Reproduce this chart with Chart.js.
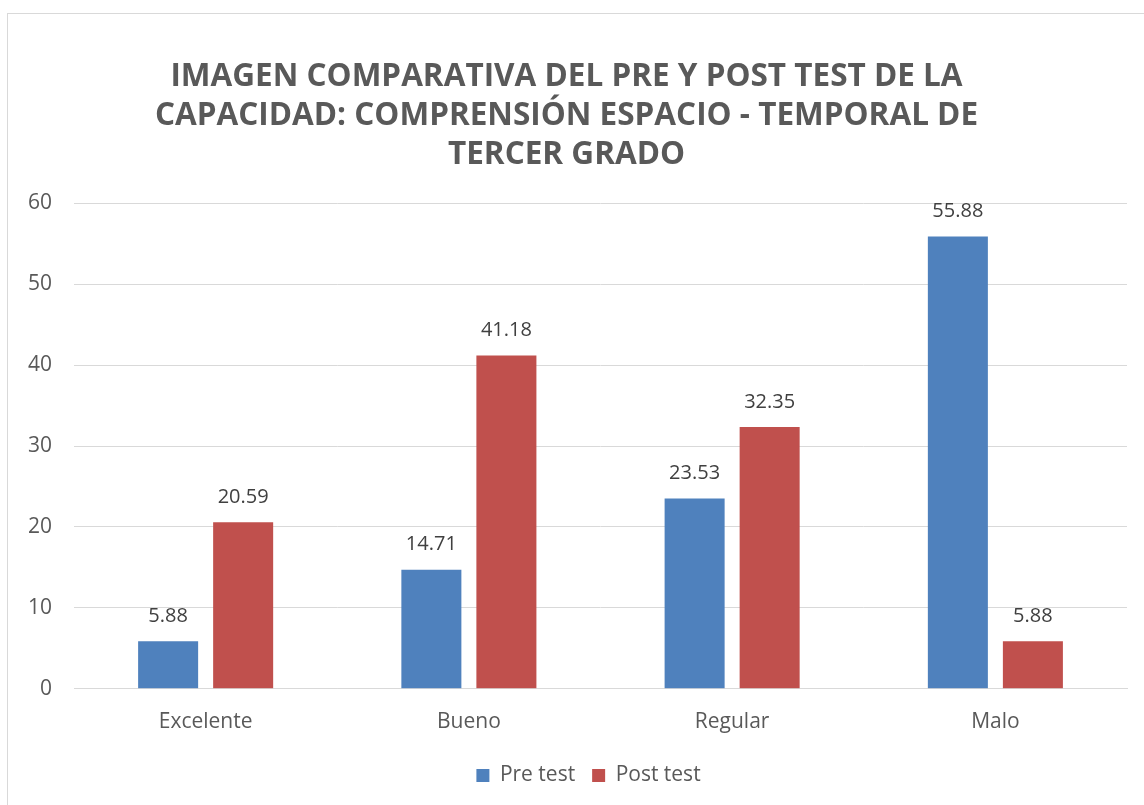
<!DOCTYPE html>
<html>
<head>
<meta charset="utf-8">
<script src="https://cdn.jsdelivr.net/npm/chart.js@4.4.0/dist/chart.umd.min.js"></script>
<style>
  html, body { margin: 0; padding: 0; background: #ffffff; }
  body { width: 1144px; height: 805px; position: relative; overflow: hidden; }
  #frame { position: absolute; left: 7px; top: 13px; width: 1160px; height: 820px; border: 1px solid #d9d9d9; box-sizing: border-box; }
  #wrap { position: absolute; left: 0; top: 0; width: 1144px; height: 805px; }
</style>
</head>
<body>
<div id="frame"></div>
<div id="wrap"><canvas id="c" width="1144" height="805"></canvas></div>
<script>
const titleLines = [
  "IMAGEN COMPARATIVA DEL PRE Y POST TEST DE LA",
  "CAPACIDAD: COMPRENSIÓN ESPACIO - TEMPORAL DE",
  "TERCER GRADO"
];
const categories = ["Excelente", "Bueno", "Regular", "Malo"];
const preTest = [5.88, 14.71, 23.53, 55.88];
const postTest = [20.59, 41.18, 32.35, 5.88];
const seriesNames = ["Pre test", "Post test"];
const yTicks = [0, 10, 20, 30, 40, 50, 60];

const textColor = "#595959";
const fontFam = "'Open Sans', 'Liberation Sans', sans-serif";
const bodyFont = "'Open Sans', 'Noto Sans', sans-serif";

const valueLabels = {
  id: "valueLabels",
  afterDatasetsDraw(chart) {
    const ctx = chart.ctx;
    ctx.save();
    ctx.font = "20px " + bodyFont;
    ctx.fillStyle = "#404040";
    ctx.textAlign = "center";
    ctx.textBaseline = "middle";
    chart.data.datasets.forEach((ds, i) => {
      const meta = chart.getDatasetMeta(i);
      meta.data.forEach((bar, j) => {
        ctx.fillText(ds.data[j].toFixed(2), bar.x, bar.y - 25);
      });
    });
    ctx.restore();
  }
};

// centre the legend under the plot area, as in the reference
const legendShift = {
  id: "legendShift",
  afterLayout(chart) {
    const lg = chart.legend;
    if (!lg) return;
    const target = (chart.chartArea.left + chart.chartArea.right) / 2 - 12;
    const d = target - (lg.left + lg.right) / 2;
    lg.left += d;
    lg.right += d;
  }
};

new Chart(document.getElementById("c"), {
  type: "bar",
  data: {
    labels: categories,
    datasets: [
      { label: seriesNames[0], data: preTest, backgroundColor: "#4f81bd", categoryPercentage: 0.57, barPercentage: 0.8 },
      { label: seriesNames[1], data: postTest, backgroundColor: "#c0504d", categoryPercentage: 0.57, barPercentage: 0.8 }
    ]
  },
  options: {
    responsive: false,
    animation: false,
    devicePixelRatio: 1,
    layout: { padding: { left: 6, right: 17, top: 58, bottom: 9 } },
    plugins: {
      title: {
        display: true,
        text: titleLines,
        color: textColor,
        font: { family: fontFam, size: 31.5, weight: "bold", lineHeight: 1.23 },
        padding: { top: 0, bottom: 29 }
      },
      legend: {
        position: "bottom",
        labels: {
          color: textColor,
          font: { family: bodyFont, size: 21 },
          boxWidth: 13, boxHeight: 13, padding: 17
        }
      },
      tooltip: { enabled: false }
    },
    scales: {
      x: {
        grid: { display: false },
        border: { color: "#d9d9d9" },
        ticks: { color: textColor, font: { family: bodyFont, size: 21 }, padding: 13 }
      },
      y: {
        min: 0, max: 60,
        afterBuildTicks(axis) { axis.ticks = yTicks.map(v => ({ value: v })); },
        grid: { color: "#d9d9d9", drawTicks: false },
        border: { display: false },
        ticks: { color: textColor, font: { family: bodyFont, size: 21 }, padding: 22 }
      }
    }
  },
  plugins: [valueLabels, legendShift]
});
</script>
</body>
</html>
